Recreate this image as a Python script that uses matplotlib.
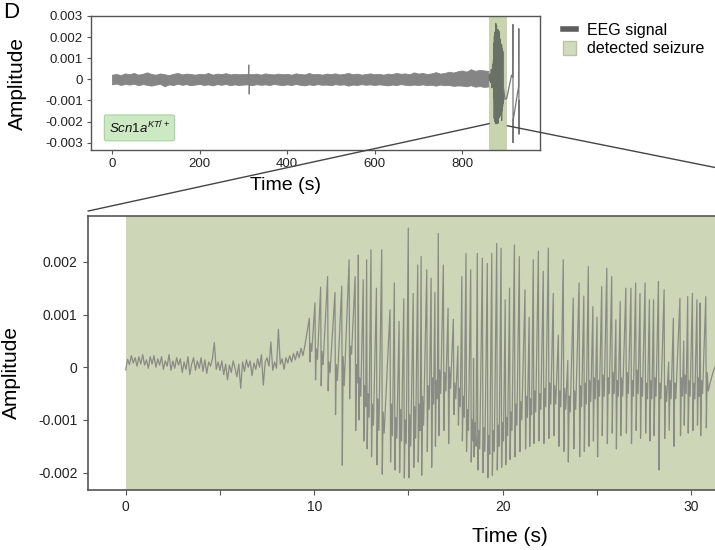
import numpy as np
import matplotlib.pyplot as plt
from matplotlib.lines import Line2D
from matplotlib.patches import Patch, ConnectionPatch

plt.rcParams['font.family'] = ['Liberation Sans', 'DejaVu Sans']
plt.rcParams['axes.unicode_minus'] = False
plt.rcParams['mathtext.fontset'] = 'custom'
plt.rcParams['mathtext.it'] = 'Liberation Sans:italic'
plt.rcParams['mathtext.rm'] = 'Liberation Sans'

# ---- data (amplitudes in units of 1e-3) ----
seizure_start = 862
seizure_end = 903

# whole recording, envelope of the noise band every 10 s (0..860 s)
env_t = np.arange(0, 870, 10)
env_hi = [0.22, 0.25, 0.20, 0.28, 0.24, 0.30, 0.22, 0.26, 0.33, 0.25,
          0.22, 0.28, 0.24, 0.20, 0.26, 0.30, 0.23, 0.27, 0.25, 0.22,
          0.26, 0.24, 0.30, 0.22, 0.27, 0.25, 0.29, 0.23, 0.26, 0.24,
          0.25, 0.26, 0.24, 0.27, 0.22, 0.28, 0.25, 0.23, 0.27, 0.24,
          0.26, 0.22, 0.28, 0.25, 0.23, 0.30, 0.24, 0.26, 0.22, 0.27,
          0.25, 0.28, 0.23, 0.26, 0.30, 0.24, 0.27, 0.22, 0.25, 0.28,
          0.24, 0.26, 0.22, 0.27, 0.25, 0.30, 0.26, 0.28, 0.24, 0.33,
          0.27, 0.30, 0.25, 0.28, 0.34, 0.27, 0.30, 0.36, 0.32, 0.38,
          0.42, 0.36, 0.48, 0.40, 0.45, 0.42, 0.40]
env_lo = [-0.24, -0.20, -0.27, -0.22, -0.25, -0.21, -0.28, -0.23, -0.26, -0.30,
          -0.25, -0.22, -0.33, -0.24, -0.27, -0.21, -0.26, -0.23, -0.28, -0.25,
          -0.22, -0.27, -0.24, -0.29, -0.23, -0.26, -0.22, -0.28, -0.24, -0.27,
          -0.25, -0.24, -0.28, -0.23, -0.26, -0.24, -0.27, -0.22, -0.25, -0.28,
          -0.24, -0.27, -0.22, -0.26, -0.29, -0.24, -0.27, -0.23, -0.26, -0.25,
          -0.28, -0.23, -0.26, -0.24, -0.30, -0.25, -0.27, -0.23, -0.26, -0.24,
          -0.27, -0.24, -0.26, -0.29, -0.25, -0.27, -0.23, -0.26, -0.28, -0.25,
          -0.27, -0.24, -0.28, -0.26, -0.30, -0.25, -0.28, -0.27, -0.31, -0.29,
          -0.30, -0.33, -0.28, -0.35, -0.32, -0.36, -0.34]

# isolated transient near 313 s
trans_t = [311.5, 312.5, 313.5, 314.5]
trans_v = [0.0, 0.68, -0.70, 0.0]

# artefact after the seizure
post_t = [894.5, 898, 902, 913, 915.5, 916, 916.5, 917, 929, 929.5, 930, 930.5]
post_v = [-0.4, -0.95, -0.9, 0.2, 0.1, 2.6, -3.0, -1.9, -0.35, 2.4, -2.6, -1.0]

# zoomed seizure: pre-spike baseline, every 0.1 s from 0 to 9.5 s
base_t = np.round(np.arange(0, 9.55, 0.1), 2)
base_v = [-0.05, 0.15, 0.05, 0.22, 0.08, 0.18, 0.02, 0.20, 0.06, 0.24,
          0.04, 0.14, -0.02, 0.20, 0.06, 0.22, 0.00, 0.16, 0.04, 0.20,
          -0.04, 0.12, 0.02, 0.24, -0.06, 0.12, -0.02, 0.18, 0.04, 0.16,
          -0.10, 0.10, -0.04, 0.20, -0.14, 0.06, 0.18, -0.06, 0.12, -0.02,
          0.18, -0.08, 0.14, -0.12, 0.10, 0.02, 0.16, 0.47, -0.04, 0.10,
          -0.06, 0.12, -0.14, 0.06, -0.24, 0.04, -0.10, 0.12, -0.02, -0.18,
          0.06, -0.40, 0.10, -0.08, 0.14, 0.00, 0.12, -0.16, 0.08, -0.04,
          0.16, 0.00, 0.24, -0.34, 0.10, 0.18, 0.02, 0.48, -0.06, 0.10,
          -0.02, 0.72, 0.06, 0.16, -0.04, 0.18, 0.08, 0.22, 0.10, 0.26,
          0.14, 0.30, 0.18, 0.36, 0.22, 0.40]

# spikes: time, peak, trough after the peak, rebound, baseline before the next spike
spike_t = [9.74, 10.04, 10.34, 10.71, 11.10, 11.46, 11.85, 12.17, 12.34, 12.60,
           12.78, 13.01, 13.30, 13.58, 14.02, 14.25, 14.50, 14.75, 14.99, 15.25,
           15.49, 15.67, 15.97, 16.20, 16.40, 16.58, 16.85, 17.10, 17.38, 17.62,
           17.83, 18.05, 18.30, 18.45, 18.65, 18.92, 19.18, 19.42, 19.68, 19.91,
           20.13, 20.36, 20.62, 20.88, 21.18, 21.40, 21.62, 21.89, 22.15, 22.42,
           22.68, 22.95, 23.21, 23.45, 23.74, 24.05, 24.30, 24.54, 24.78, 25.00,
           25.25, 25.52, 25.78, 26.00, 26.23, 26.53, 26.80, 27.05, 27.28, 27.55,
           27.78, 28.00, 28.26, 28.56, 28.80, 29.05, 29.40, 29.60, 29.81, 30.06,
           30.30, 30.47, 30.77]
spike_peak = [0.93, 1.22, 1.52, 1.72, 1.42, 1.54, 2.04, 1.72, 2.13, 1.66,
              2.04, 2.23, 1.50, 2.23, 1.09, 1.60, 0.87, 1.30, 2.64, 1.40,
              1.94, 2.10, 1.85, 1.69, 1.42, 2.54, 1.94, 1.12, 0.91, 0.40,
              1.72, 2.16, 1.85, 0.17, 2.16, 2.07, 1.97, 2.16, 2.35, 2.26,
              1.28, 1.50, 2.32, 2.10, 1.47, 0.95, 2.04, 2.20, 1.82, 2.26,
              1.40, 0.61, 2.04, 0.13, 1.31, 1.60, 1.35, 1.91, 1.15, 0.95,
              1.53, 1.88, 1.72, 0.90, 1.25, 1.50, 1.50, 1.60, 1.40, 1.60,
              1.28, 1.28, 1.63, 1.47, 0.10, 0.93, 1.31, 0.50, 1.34, 1.40,
              1.28, 1.22, 1.34]
spike_trough = [0.10, -0.24, -0.35, -0.45, -0.90, -1.86, -0.60, -1.20, -1.00, -1.40,
                -1.55, -1.70, -1.85, -2.03, -1.80, -1.95, -2.00, -2.10, -2.10, -1.90,
                -1.80, -2.05, -1.60, -1.90, -1.50, -1.30, -1.20, -1.45, -0.90, -1.10,
                -1.40, -1.60, -1.80, -1.70, -1.95, -2.00, -2.10, -2.05, -1.95, -1.90,
                -1.85, -1.75, -1.70, -1.60, -1.55, -1.50, -1.45, -1.40, -1.45, -1.35,
                -1.30, -1.50, -1.60, -1.80, -1.55, -1.70, -1.60, -1.50, -1.40, -1.70,
                -1.30, -1.45, -1.25, -1.55, -1.30, -1.25, -1.45, -1.20, -1.35, -1.25,
                -1.40, -1.30, -1.95, -1.35, -1.20, -1.50, -1.30, -1.10, -1.25, -1.20,
                -1.10, -1.30, -1.15]
spike_rebound = [0.45, 0.35, 0.30, 0.10, 0.05, 0.20, 0.40, 0.05, -0.20, -0.35,
                 -0.50, -0.70, -0.60, -0.85, -0.70, -0.95, -0.80, -1.00, -0.90, -0.75,
                 -0.70, -0.55, -0.35, -0.20, -0.25, -0.05, -0.10, 0.00, -0.30, -0.40,
                 -0.55, -0.80, -1.00, -1.05, -1.20, -1.15, -1.30, -1.20, -1.10, -1.05,
                 -0.95, -0.85, -0.70, -0.65, -0.55, -0.60, -0.45, -0.50, -0.40, -0.30,
                 -0.35, -0.45, -0.40, -0.55, -0.45, -0.35, -0.30, -0.25, -0.20, -0.25,
                 -0.15, -0.20, -0.10, -0.25, -0.20, -0.10, -0.25, -0.05, -0.20, -0.30,
                 -0.25, -0.20, -0.30, -0.35, -0.25, -0.30, -0.20, -0.15, -0.25, -0.30,
                 -0.20, -0.25, -0.10]
spike_base = [0.30, 0.15, 0.05, -0.10, -0.25, -0.35, 0.25, -0.30, -0.55, -0.75,
              -0.95, -1.10, -1.20, -1.25, -1.30, -1.35, -1.40, -1.45, -1.50, -1.35,
              -1.20, -1.10, -0.80, -0.70, -0.60, -0.50, -0.45, -0.40, -0.60, -0.75,
              -0.95, -1.20, -1.40, -1.50, -1.55, -1.60, -1.65, -1.60, -1.50, -1.40,
              -1.30, -1.20, -1.10, -1.00, -0.95, -0.90, -0.85, -0.80, -0.75, -0.70,
              -0.70, -0.75, -0.80, -0.85, -0.80, -0.75, -0.70, -0.65, -0.60, -0.55,
              -0.55, -0.50, -0.50, -0.55, -0.55, -0.50, -0.55, -0.50, -0.55, -0.60,
              -0.60, -0.55, -0.60, -0.65, -0.60, -0.60, -0.55, -0.50, -0.55, -0.60,
              -0.55, -0.50, -0.45]
tail_t = [31.0, 31.15, 31.3, 31.5]
tail_v = [-0.30, -0.10, 0.05, 0.15]

top_xticks = [0, 200, 400, 600, 800]
top_yticks = [-0.003, -0.002, -0.001, 0, 0.001, 0.002, 0.003]
top_yticklabels = ['-0.003', '-0.002', '-0.001', '0', '0.001', '0.002', '0.003']
bot_xticks = [0, 5, 10, 15, 20, 25, 30]
bot_xticklabels = ['0', '', '10', '', '20', '', '30']
bot_yticks = [-0.002, -0.001, 0, 0.001, 0.002]
bot_yticklabels = ['-0.002', '-0.001', '0', '0.001', '0.002']

# build the zoomed trace path from the tables
zt = list(base_t)
zv = list(base_v)
for t, p, q, r, b in zip(spike_t, spike_peak, spike_trough, spike_rebound, spike_base):
    zt += [t, t + 0.03, t + 0.075, t + 0.13]
    zv += [p, q, r, b]
zt += tail_t
zv += tail_v
zt = np.array(zt)
zv = np.array(zv) * 1e-3

trace_col = '#888c84'
shade_top = '#c9d4ae'
shade_bot = '#cdd7b7'
spine_col = '#555555'

fig = plt.figure(figsize=(7.15, 5.5), dpi=100)
ax1 = fig.add_axes([91 / 715, 1 - 150 / 550, 449 / 715, 134 / 550])
ax2 = fig.add_axes([88 / 715, 1 - 490 / 550, 844 / 715, 274 / 550])

# ---- top panel ----
ax1.axvspan(seizure_start, seizure_end, color=shade_top, lw=0, zorder=0)
ax1.fill_between(env_t, np.array(env_lo) * 1e-3, np.array(env_hi) * 1e-3,
                 color='#858585', lw=0.6, edgecolor='#858585', zorder=2)
ax1.plot(trans_t, np.array(trans_v) * 1e-3, color='#808080', lw=0.8, zorder=2)
ax1.plot(seizure_start + zt, zv, color='#6b7066', lw=0.9, zorder=3)
ax1.plot([seizure_start + zt[-1]] + post_t, [zv[-1]] + list(np.array(post_v) * 1e-3),
         color='#777777', lw=0.9, zorder=3)
ax1.set_xlim(-48, 978)
ax1.set_ylim(-0.00335, 0.003)
ax1.set_xticks(top_xticks)
ax1.set_yticks(top_yticks)
ax1.set_yticklabels(top_yticklabels)
ax1.tick_params(direction='out', length=3, width=0.8, color=spine_col,
                labelsize=9.5, pad=3, labelcolor='#222222')
for s in ax1.spines.values():
    s.set_color(spine_col)
    s.set_linewidth(1.0)
ax1.set_xlabel('Time (s)', fontsize=14)
ax1.xaxis.set_label_coords(0.434, -0.2)
ax1.set_ylabel('Amplitude', fontsize=15)
ax1.yaxis.set_label_coords(-0.143, 0.5)

ax1.text(0.04, 0.165, r'$\mathit{Scn1a}^{\mathit{KT/+}}$', transform=ax1.transAxes,
         fontsize=9.5, va='center', ha='left', color='#111111',
         bbox=dict(boxstyle='round,pad=0.35,rounding_size=0.15',
                   facecolor='#cde9c4', edgecolor='#a3d39a', lw=0.8))

# ---- bottom panel ----
ax2.axvspan(0, seizure_end - seizure_start, color=shade_bot, lw=0, zorder=0)
ax2.plot(zt, zv, color=trace_col, lw=0.9, zorder=2)
ax2.set_xlim(-2, 42.77)
ax2.set_ylim(-0.00233, 0.00287)
ax2.set_xticks(bot_xticks)
ax2.set_xticklabels(bot_xticklabels)
ax2.set_yticks(bot_yticks)
ax2.set_yticklabels(bot_yticklabels)
ax2.tick_params(direction='out', length=3.5, width=0.8, color=spine_col,
                labelsize=10, pad=4, labelcolor='#222222')
ax2.spines['right'].set_visible(False)
for k in ['left', 'top', 'bottom']:
    ax2.spines[k].set_color(spine_col)
    ax2.spines[k].set_linewidth(1.2)
ax2.set_xlabel('Time (s)', fontsize=15, labelpad=9)
ax2.set_ylabel('Amplitude', fontsize=15)
ax2.yaxis.set_label_coords(-0.08, 0.43)

# zoom connector lines
for xa, ya, xb in [(seizure_start, -0.0021, 0), (seizure_end, -0.0022, 1)]:
    con = ConnectionPatch(xyA=(xa, ya), coordsA=ax1.transData,
                          xyB=(xb, 1.018), coordsB=ax2.transAxes,
                          color='#444444', lw=1.0)
    fig.add_artist(con)

# legend
handles = [Line2D([], [], color='#5e5e5e', lw=4),
           Patch(facecolor='#d2dbbd', edgecolor='#b8c2a0')]
fig.legend(handles, ['EEG signal', 'detected seizure'], loc='upper left',
           bbox_to_anchor=(0.768, 0.985), frameon=False, fontsize=11.5,
           handlelength=0.8, handleheight=1.0, handletextpad=0.7, labelspacing=0.15)

fig.text(0.004, 0.997, 'D', fontsize=16, va='top', ha='left')

fig.savefig('out.png', dpi=100)
